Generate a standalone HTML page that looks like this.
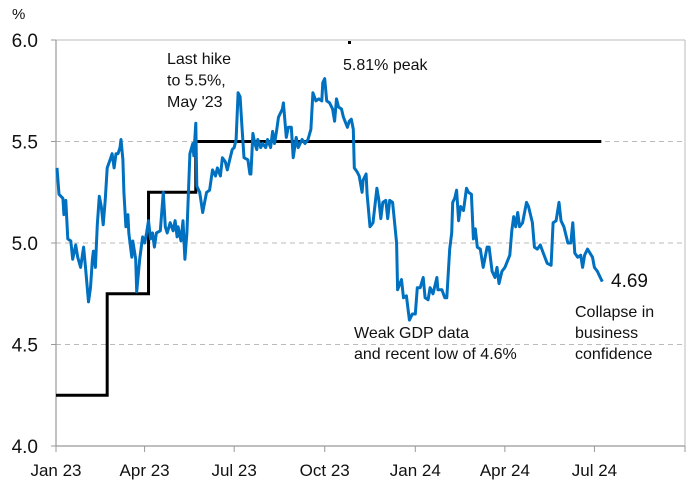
<!DOCTYPE html>
<html><head><meta charset="utf-8"><style>
body{margin:0;background:#fff}
svg text{font-family:"Liberation Sans",sans-serif;fill:#111}
</style></head><body>
<svg id="chart" width="691" height="492" viewBox="0 0 691 492" xmlns="http://www.w3.org/2000/svg">
<g id="grid"></g>
<g id="axes"></g>
<g id="series"></g>
<text x="12" y="19" font-size="15">%</text>
<text x="167" y="64" font-size="16"><tspan x="167">Last hike</tspan><tspan x="167" dy="21.5">to 5.5%,</tspan><tspan x="167" dy="21.5">May '23</tspan></text>
<rect x="348" y="41" width="3" height="3" fill="#000"/>
<text x="343" y="70" font-size="16">5.81% peak</text>
<text x="354" y="338" font-size="16"><tspan x="354">Weak GDP data</tspan><tspan x="354" dy="21">and recent low of 4.6%</tspan></text>
<text x="611" y="287" font-size="19">4.69</text>
<text x="575" y="317" font-size="16"><tspan x="575">Collapse in</tspan><tspan x="575" dy="21">business</tspan><tspan x="575" dy="21">confidence</tspan></text>
</svg>
<script>
const yTicks=[4.0,4.5,5.0,5.5,6.0];
const xTickDays=[0,90,181,273,365,456,547,639];
const xTickLabels=["Jan 23","Apr 23","Jul 23","Oct 23","Jan 24","Apr 24","Jul 24"];
const policyDays=[0,52,94,142];
const policyValues=[4.25,4.75,5.25,5.5];
const policyEndDay=554;
const yieldDays=[1,3,7,8,10,12,15,17,20,22,25,28,30,33,35,37,38,40,42,44,46,48,50,52,55,57,59,61,63,65,66,68,69,71,73,74,77,78,81,82,85,88,90,92,94,96,98,100,102,106,109,111,113,116,119,121,123,124,127,129,131,133,136,139,140,142,143,146,149,151,153,156,159,162,164,167,169,172,174,177,179,181,183,185,187,189,191,195,197,
198,200,202,204,205,208,210,213,215,218,220,222,224,226,230,231,234,236,239,241,244,246,250,253,256,259,261,264,267,270,271,273,275,278,281,283,285,287,290,292,296,298,300,
302,303,306,308,311,312,315,316,319,322,326,328,330,332,335,337,339,342,346,347,351,353,356,359,362,365,367,370,373,375,378,380,383,387,388,392,395,
397,400,402,403,405,407,409,411,414,417,419,422,424,426,428,431,434,438,440,443,446,448,450,453,456,461,463,465,467,469,471,474,478,480,484,486,489,492,495,499,503,505,508,511,513,516,520,523,525,527,530,533,535,537,540,545,547,550,553,555];
const yieldValues=[5.37,5.24,5.22,5.14,5.21,5.02,5.01,4.92,4.99,4.93,4.88,4.98,4.88,4.71,4.78,4.92,4.96,4.88,5.09,5.23,5.18,5.09,5.21,5.37,5.41,5.44,5.37,5.44,5.44,5.47,5.51,5.41,5.25,5.08,5.14,5.05,4.93,5.01,4.92,4.76,4.92,5.03,5.00,5.05,5.11,5.02,5.05,4.98,5.05,5.06,5.25,5.08,5.05,5.10,5.06,5.11,5.03,5.08,5.01,5.11,4.92,5.05,5.44,5.49,5.43,5.59,5.28,5.25,5.15,5.20,5.25,5.26,5.36,5.33,5.37,5.33,5.42,5.40,5.36,5.42,5.46,5.47,5.51,5.74,5.72,5.57,5.42,5.41,5.34,
5.34,5.54,5.49,5.46,5.51,5.47,5.49,5.47,5.51,5.47,5.55,5.49,5.55,5.62,5.66,5.69,5.52,5.57,5.57,5.42,5.52,5.47,5.51,5.49,5.51,5.56,5.74,5.70,5.71,5.70,5.79,5.81,5.70,5.69,5.66,5.60,5.71,5.67,5.66,5.62,5.57,5.60,5.61,
5.56,5.37,5.35,5.33,5.25,5.31,5.34,5.24,5.08,5.10,5.27,5.21,5.12,5.20,5.21,5.12,5.21,5.20,5.00,4.77,4.82,4.73,4.74,4.62,4.65,4.65,4.78,4.78,4.83,4.73,4.72,4.78,4.75,4.83,4.77,4.77,4.73,
4.73,4.97,5.05,5.20,5.22,5.26,5.11,5.18,5.16,5.27,5.25,5.24,5.02,5.07,4.98,4.97,4.88,4.98,4.98,4.86,4.83,4.88,4.80,4.86,4.88,4.94,5.06,5.13,5.08,5.15,5.08,5.10,5.20,5.18,5.10,4.98,4.97,4.99,4.95,4.90,4.89,5.10,5.11,5.20,5.11,5.08,5.00,5.00,5.10,4.95,4.93,4.94,4.88,4.94,4.97,4.93,4.88,4.86,4.83,4.81];

const X0=56,X1=685,Y0=446,Y1=40,D1=639,V0=4,V1=6;
const xs=d=>X0+d*(X1-X0)/D1;
const ys=v=>Y0-(v-V0)*(Y0-Y1)/(V1-V0);
const NS="http://www.w3.org/2000/svg";
function mk(tag,attrs,parent){const e=document.createElementNS(NS,tag);for(const k in attrs)e.setAttribute(k,attrs[k]);document.getElementById(parent).appendChild(e);return e;}

yTicks.forEach(t=>{
  if(t>V0){
    const g=mk('line',{x1:X0,x2:X1,y1:ys(t),y2:ys(t),stroke:'#bbb','stroke-width':1,'stroke-dasharray':t<V1?'5,4':'none'},'grid');
    
    
  }
  const l=mk('text',{x:X0-18,y:ys(t)+7,'font-size':19,'text-anchor':'end'},'axes');
  l.textContent=t.toFixed(1);
  
  
  const tk=mk('line',{x1:X0-5,x2:X0,y1:ys(t),y2:ys(t),stroke:'#999'},'axes');
  
  
});
const ya=mk('line',{x1:X0,x2:X0,y1:Y1,y2:Y0,stroke:'#999','stroke-width':1.2},'axes');


const rb=mk('line',{x1:X1,x2:X1,y1:Y1,y2:Y0,stroke:'#bbb'},'axes');


const xa=mk('line',{x1:X0,x2:X1,y1:Y0,y2:Y0,stroke:'#999','stroke-width':1.2},'axes');


xTickDays.forEach((d,i)=>{
  const tk=mk('line',{x1:xs(d),x2:xs(d),y1:Y0,y2:Y0+6,stroke:'#999'},'axes');
  
  
  if(xTickLabels[i]){
    const l=mk('text',{x:xs(d),y:Y0+30,'font-size':17,'text-anchor':'middle'},'axes');
    l.textContent=xTickLabels[i];
    
    
  }
});
let pp='';
policyDays.forEach((d,i)=>{
  const nd=i<policyDays.length-1?policyDays[i+1]:policyEndDay;
  pp+=(i===0?'M':'L')+xs(d)+','+ys(policyValues[i])+'L'+xs(nd)+','+ys(policyValues[i]);
});
const pl=mk('path',{d:pp,fill:'none',stroke:'#000','stroke-width':3},'series');


let yp='';
yieldDays.forEach((d,i)=>{yp+=(i?'L':'M')+xs(d).toFixed(1)+','+ys(yieldValues[i]).toFixed(1);});
const yl=mk('path',{d:yp,fill:'none',stroke:'#0070C0','stroke-width':3,'stroke-linejoin':'round'},'series');


</script>
</body></html>
